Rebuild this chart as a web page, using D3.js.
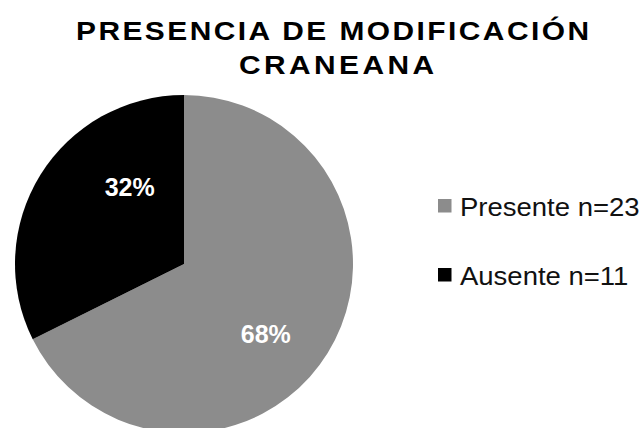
<!DOCTYPE html>
<html>
<head>
<meta charset="utf-8">
<script src="https://cdn.jsdelivr.net/npm/d3@7"></script>
<style>
  body { margin: 0; background: #fff; }
  svg { display: block; font-family: "Liberation Sans", Arial, sans-serif; }
</style>
</head>
<body>
<svg id="chart" width="644" height="428"></svg>
<script>
// data
var categories = ["Presente n=23", "Ausente n=11"];
var counts = [23, 11];
var colors = ["#8c8c8c", "#000000"];
var titleLines = ["PRESENCIA DE MODIFICACIÓN", "CRANEANA"];

var cx = 184, cy = 264, r = 169;

var svg = d3.select("#chart");

// title, wide glyphs + spread out like the original
var titleX = [76, 239], titleLen = [513, 195], sx = 1.15;
svg.append("g")
  .selectAll("text")
  .data(titleLines)
  .enter().append("text")
  .attr("transform", function(d, i) {
    return "translate(" + titleX[i] + "," + (39.5 + i * 34) + ") scale(" + sx + ",1)";
  })
  .attr("textLength", function(d, i) { return titleLen[i] / sx; })
  .attr("lengthAdjust", "spacing")
  .attr("font-size", 26)
  .attr("font-weight", "bold")
  .attr("fill", "#000")
  .text(function(d) { return d; });

var total = d3.sum(counts);

var pie = d3.pie().sort(null).value(function(d) { return d; });
var arcs = pie(counts);

var arc = d3.arc().innerRadius(0).outerRadius(r);

var g = svg.append("g").attr("transform", "translate(" + cx + "," + cy + ")");

g.selectAll("path.slice")
  .data(arcs)
  .enter().append("path")
  .classed("slice", true)
  .attr("d", arc)
  .attr("fill", function(d, i) { return colors[i]; });

// labels - best-fit style placement, centroid plus a small nudge
var labelArcs = [d3.arc().innerRadius(108).outerRadius(108), d3.arc().innerRadius(95).outerRadius(95)];
var nudge = [[-10, 13.5], [26.5, -27]];

g.selectAll("text.pct")
  .data(arcs)
  .enter().append("text")
  .classed("pct", true)
  .attr("x", function(d, i) { return labelArcs[i].centroid(d)[0] + nudge[i][0]; })
  .attr("y", function(d, i) { return labelArcs[i].centroid(d)[1] + nudge[i][1]; })
  .attr("dy", "0.36em")
  .attr("text-anchor", "middle")
  .attr("font-size", 25)
  .attr("font-weight", "bold")
  .attr("fill", "#fff")
  .text(function(d) { return Math.round(d.value / total * 100) + "%"; });

// legend
var legend = svg.append("g").attr("transform", "translate(438,199)");

var item = legend.selectAll("g")
  .data(categories)
  .enter().append("g")
  .attr("transform", function(d, i) { return "translate(0," + (i * 69) + ")"; });

item.append("rect")
  .attr("width", 13.5)
  .attr("height", 13.5)
  .attr("fill", function(d, i) { return colors[i]; });

item.append("text")
  .attr("transform", "translate(22,17) scale(1.1,1)")
  .attr("font-size", 25)
  .attr("fill", "#111")
  .text(function(d) { return d; });
</script>
</body>
</html>
